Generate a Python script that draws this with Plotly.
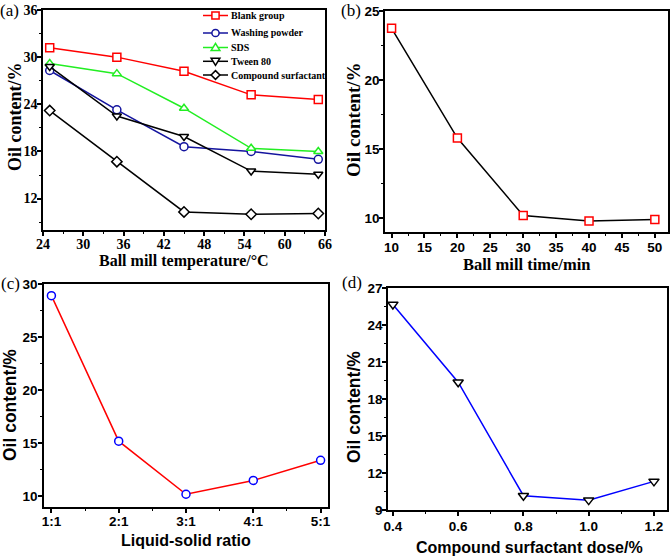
import plotly.graph_objects as go

W, H = 671, 556

# ---------- data ----------
temp = [25, 35, 45, 55, 65]
blank = [31.2, 30.0, 28.2, 25.2, 24.6]
washing = [28.3, 23.3, 18.6, 18.0, 17.0]
sds = [29.2, 27.9, 23.5, 18.4, 18.0]
tween = [28.8, 22.5, 19.9, 15.5, 15.1]
compound = [23.2, 16.7, 10.3, 10.0, 10.1]

mill_time = [10, 20, 30, 40, 50]
oil_time = [23.75, 15.8, 10.2, 9.8, 9.9]

ratio_pos = [1, 2, 3, 4, 5]
ratio_labels = ["1:1", "2:1", "3:1", "4:1", "5:1"]
oil_ratio = [28.9, 15.2, 10.2, 11.5, 13.4]

dose = [0.4, 0.6, 0.8, 1.0, 1.2]
oil_dose = [25.67, 19.36, 10.16, 9.8, 11.32]

series_names = ["Blank group", "Washing powder", "SDS", "Tween 80", "Compound surfactant"]
series_values = [blank, washing, sds, tween, compound]
series_colors = ["#FF0000", "#14149E", "#22EE22", "#000000", "#000000"]
series_symbols = ["square", "circle", "triangle-up", "triangle-down", "diamond"]

SERIF = "Liberation Serif"
SANS = "Liberation Sans"


def fx(p):
    return p / W


def fy(p):
    return 1 - p / H


fig = go.Figure()

for name, vals, col, sym in zip(series_names, series_values, series_colors, series_symbols):
    fig.add_trace(go.Scatter(
        x=temp, y=vals, name=name, mode="lines+markers", showlegend=False,
        line=dict(color=col, width=1.5),
        marker=dict(symbol=sym, size=8, color="white", line=dict(color=col, width=1.5)),
        xaxis="x", yaxis="y",
    ))

fig.add_trace(go.Scatter(
    x=mill_time, y=oil_time, mode="lines+markers", showlegend=False,
    line=dict(color="black", width=1.5),
    marker=dict(symbol="square", size=8, color="white", line=dict(color="#FF0000", width=1.5)),
    xaxis="x2", yaxis="y2",
))

fig.add_trace(go.Scatter(
    x=ratio_pos, y=oil_ratio, mode="lines+markers", showlegend=False,
    line=dict(color="#FF0000", width=1.5),
    marker=dict(symbol="circle", size=8, color="white", line=dict(color="#0000FF", width=1.5)),
    xaxis="x3", yaxis="y3",
))

fig.add_trace(go.Scatter(
    x=dose, y=oil_dose, mode="lines+markers", showlegend=False,
    line=dict(color="#0000FF", width=1.5),
    marker=dict(symbol="triangle-down", size=9, color="white", line=dict(color="black", width=1.5)),
    xaxis="x4", yaxis="y4",
))


def axis(domain, rng, anchor, tickfont, lblshift, **kw):
    d = dict(
        domain=domain, range=rng, anchor=anchor, automargin=False,
        showline=True, linecolor="black", linewidth=1.5, mirror=True,
        ticks="outside", ticklen=4, tickwidth=1.5, tickcolor="black",
        showgrid=False, zeroline=False,
        tickfont=tickfont, ticklabelstandoff=lblshift,
    )
    d.update(kw)
    return d


tf_serif = dict(family=SERIF, size=14, color="black", weight="bold")
tf_sans = dict(family=SANS, size=13.5, color="black", weight="bold")


def minor(dt):
    return dict(dtick=dt, ticks="outside", ticklen=2, tickwidth=1.2, tickcolor="black")


fig.update_layout(
    width=W, height=H,
    margin=dict(l=0, r=0, t=0, b=0),
    paper_bgcolor="white", plot_bgcolor="white",
    showlegend=False,
    xaxis=axis([fx(43), fx(325)], [24, 66], "y", tf_serif, -4,
               tick0=0, dtick=6, minor=minor(3)),
    yaxis=axis([fy(230), fy(10)], [8, 36], "x", tf_serif, -3,
               tick0=0, dtick=6, minor=minor(3)),
    xaxis2=axis([fx(385), fx(668)], [9, 52], "y2", tf_sans, -2,
                tick0=0, dtick=5, minor=minor(2.5)),
    yaxis2=axis([fy(232), fy(11)], [9, 25], "x2", tf_sans, -3,
                tick0=0, dtick=5, minor=minor(2.5)),
    xaxis3=axis([fx(44), fx(328)], [0.89, 5.11], "y3", tf_sans, -3,
                tickvals=ratio_pos, ticktext=ratio_labels,
                minor=dict(tickvals=[1.5, 2.5, 3.5, 4.5], ticks="outside", ticklen=2, tickwidth=1.2,
                           tickcolor="black")),
    yaxis3=axis([fy(507), fy(284)], [9, 30], "x3", tf_sans, -2,
                tick0=0, dtick=5, minor=minor(2.5)),
    xaxis4=axis([fx(388), fx(667)], [0.385, 1.24], "y4", tf_sans, -1,
                tick0=0.4, dtick=0.2, tickformat=".1f", minor=minor(0.1)),
    yaxis4=axis([fy(510), fy(288)], [9, 27], "x4", tf_sans, -3,
                tick0=0, dtick=3, minor=minor(1.5)),
)

# ---------- axis titles (placed as text) ----------
axis_titles = [
    ("Ball mill temperature/°C", 184, 261, 0, SERIF, 16),
    ("Oil content/%", 15, 117, -90, SERIF, 18),
    ("Ball mill time/min", 526.5, 265, 0, SERIF, 16.5),
    ("Oil content/%", 353, 120, -90, SERIF, 19),
    ("Liquid-solid ratio", 186, 540, 0, SANS, 16),
    ("Oil content/%", 10, 405, -90, SANS, 17.5),
    ("Compound surfactant dose/%", 529, 547, 0, SANS, 16),
    ("Oil content/%", 354, 407, -90, SANS, 17.5),
]
for txt, px, py, ang, fam, sz in axis_titles:
    fig.add_annotation(text=txt, x=fx(px), y=fy(py), xref="paper", yref="paper",
                       xanchor="center", yanchor="middle", showarrow=False, textangle=ang,
                       font=dict(family=fam, size=sz, color="black", weight="bold"))

# ---------- legend for panel (a), drawn as shapes + text ----------
leg_rows = [15.5, 33, 47.5, 61.3, 75]
lx0, lx1, lxm, ltext = 203, 228, 215.5, 229
r = 3.6
for name, col, sym, yy in zip(series_names, series_colors, series_symbols, leg_rows):
    fig.add_shape(type="line", xref="paper", yref="paper",
                  x0=fx(lx0), x1=fx(lx1), y0=fy(yy), y1=fy(yy),
                  line=dict(color=col, width=1.5))
    if sym == "square":
        fig.add_shape(type="rect", xref="paper", yref="paper",
                      x0=fx(lxm - r), x1=fx(lxm + r), y0=fy(yy + r), y1=fy(yy - r),
                      line=dict(color=col, width=1.5), fillcolor="white")
    elif sym == "circle":
        fig.add_shape(type="circle", xref="paper", yref="paper",
                      x0=fx(lxm - r), x1=fx(lxm + r), y0=fy(yy + r), y1=fy(yy - r),
                      line=dict(color=col, width=1.5), fillcolor="white")
    else:
        if sym == "triangle-up":
            pts = [(lxm, yy - r - 0.5), (lxm + r + 0.8, yy + r - 0.5), (lxm - r - 0.8, yy + r - 0.5)]
        elif sym == "triangle-down":
            pts = [(lxm, yy + r + 0.5), (lxm + r + 0.8, yy - r + 0.5), (lxm - r - 0.8, yy - r + 0.5)]
        else:
            pts = [(lxm, yy - r - 0.8), (lxm + r + 0.8, yy), (lxm, yy + r + 0.8), (lxm - r - 0.8, yy)]
        path = "M " + " L ".join(f"{fx(px):.5f},{fy(py):.5f}" for px, py in pts) + " Z"
        fig.add_shape(type="path", xref="paper", yref="paper", path=path,
                      line=dict(color=col, width=1.5), fillcolor="white")
    fig.add_annotation(text=name, x=fx(ltext), y=fy(yy), xref="paper", yref="paper",
                       xanchor="left", yanchor="middle", showarrow=False,
                       font=dict(family=SERIF, size=10, color="black", weight="bold"))

panel_labels = [("(a)", 9, 10), ("(b)", 351, 10), ("(c)", 10, 283), ("(d)", 352, 282)]
for txt, px, py in panel_labels:
    fig.add_annotation(
        text=txt, x=fx(px), y=fy(py), xref="paper", yref="paper",
        xanchor="center", yanchor="middle", showarrow=False,
        font=dict(family=SERIF, size=17, color="black"),
    )

fig.write_html("out.html", config={"displayModeBar": False},
               post_script="document.body.style.margin='0';")
